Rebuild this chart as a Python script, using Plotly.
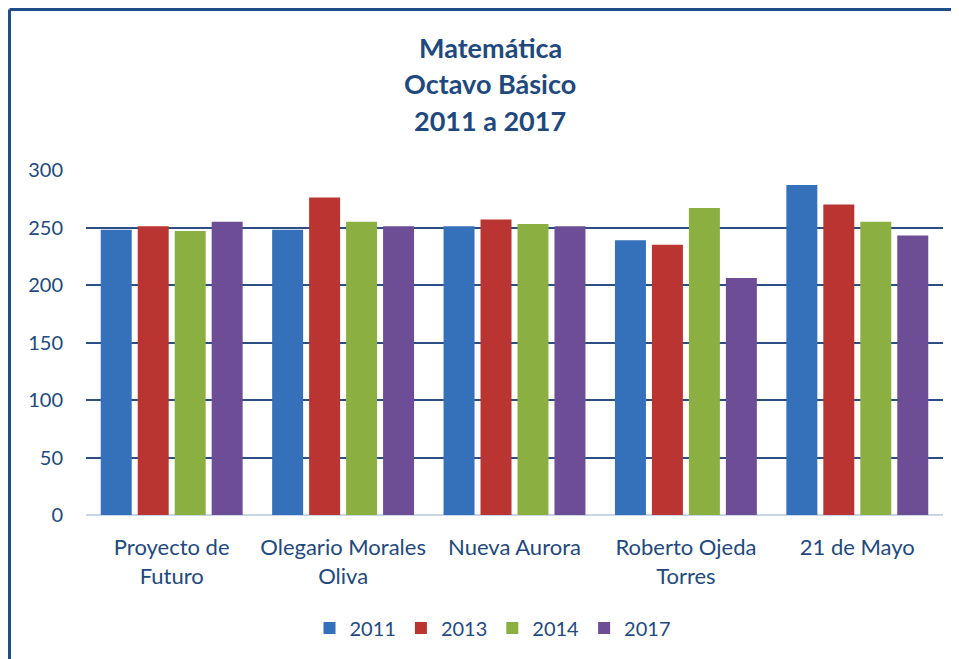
import plotly.graph_objects as go

categories = ["Proyecto de<br>Futuro", "Olegario Morales<br>Oliva", "Nueva Aurora",
              "Roberto Ojeda<br>Torres", "21 de Mayo"]
series_names = ["2011", "2013", "2014", "2017"]
v2011 = [248, 248, 251, 239, 287]
v2013 = [251, 276, 257, 235, 270]
v2014 = [247, 255, 253, 267, 255]
v2017 = [255, 251, 251, 206, 243]
values = [v2011, v2013, v2014, v2017]
colors = ["#3571BA", "#BA3432", "#8CAF41", "#6D4E96"]
y_ticks = [0, 50, 100, 150, 200, 250, 300]

text_color = "#23497C"
font_family = "Lato, 'Noto Sans', sans-serif"

fig = go.Figure()
for name, vals, col in zip(series_names, values, colors):
    fig.add_trace(go.Bar(x=categories, y=vals, name=name, marker=dict(color=col, line=dict(width=0))))

# page offset (default body margin of the html page)
OFF = 8
# target plot area in window pixels: left 86, right 943, top 170, bottom 515
L, R, T, B = 86, 943, 170, 515
WW, WH = 959, 659
W, H = WW - OFF, WH - OFF
pw, ph = R - L, B - T

def px_x(x):
    return (x - L) / pw

def px_y(y):
    return (B - y) / ph

title_lines = ["Matemática", "Octavo Básico", "2011 a 2017"]
title_y = [47, 84, 120]
annotations = []
for t, yy in zip(title_lines, title_y):
    annotations.append(dict(text="<b>" + t + "</b>", xref="paper", yref="paper",
                            x=px_x(490), y=px_y(yy), xanchor="center", yanchor="middle",
                            showarrow=False, font=dict(size=27, color="#1F497D", family=font_family)))

shapes = [
    dict(type="line", xref="paper", yref="paper", x0=px_x(9.5), x1=px_x(970),
         y0=px_y(9.5), y1=px_y(9.5), line=dict(color="#1F4E8A", width=3)),
    dict(type="line", xref="paper", yref="paper", x0=px_x(9.5), x1=px_x(9.5),
         y0=px_y(9.5), y1=px_y(670), line=dict(color="#1F4E8A", width=3)),
]

fig.update_layout(
    width=W, height=H,
    margin=dict(l=L - OFF, r=WW - R, t=T - OFF, b=WH - B),
    paper_bgcolor="white", plot_bgcolor="white",
    barmode="group", bargap=0.137, bargroupgap=0.162,
    font=dict(family=font_family, color=text_color, size=20),
    showlegend=True,
    legend=dict(orientation="h", x=px_x(493), xanchor="center", y=px_y(628), yanchor="middle",
                font=dict(size=20, color=text_color), traceorder="normal", itemwidth=30),
    annotations=annotations,
    shapes=shapes,
)
fig.update_yaxes(range=[0, 300], tickvals=y_ticks, showgrid=True, gridcolor="#2B4F82", gridwidth=2,
                 zeroline=True, zerolinecolor="#C9D6E8", zerolinewidth=2,
                 ticks="", tickfont=dict(size=20, color=text_color), ticklabelstandoff=22,
                 showline=False, layer="below traces")
fig.update_xaxes(showgrid=False, showline=False, ticks="",
                 tickfont=dict(size=22, color=text_color), ticklabelstandoff=17)

fig.write_html("out.html")
